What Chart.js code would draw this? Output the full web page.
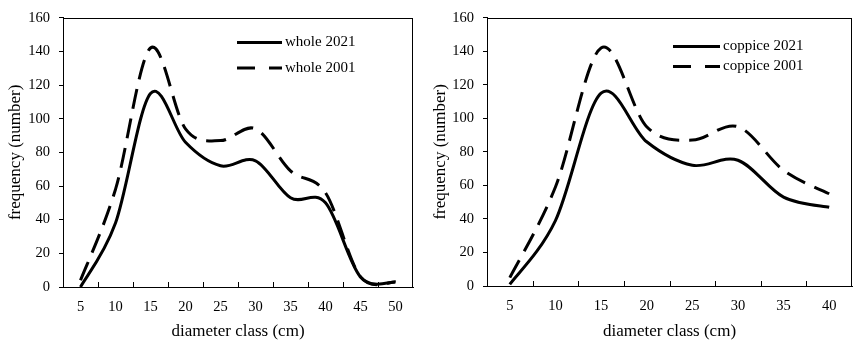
<!DOCTYPE html>
<html>
<head>
<meta charset="utf-8">
<script src="https://cdn.jsdelivr.net/npm/chart.js@4/dist/chart.umd.min.js"></script>
<style>
  html, body { margin: 0; padding: 0; background: #fff; }
  #wrap { position: relative; width: 853px; height: 342px; overflow: hidden; }
  canvas { position: absolute; top: 0; }
  #whole { left: 0; }
  #coppice { left: 425px; }
</style>
</head>
<body>
<div id="wrap">
  <canvas id="whole" width="425" height="342"></canvas>
  <canvas id="coppice" width="428" height="342"></canvas>
</div>
<script>
// diameter classes (cm)
const wholeClasses = ['5', '10', '15', '20', '25', '30', '35', '40', '45', '50'];
const coppiceClasses = ['5', '10', '15', '20', '25', '30', '35', '40'];

// frequencies
const whole2021 = [0, 38, 115, 86, 72, 75, 53, 50, 6, 3];
const whole2001 = [4, 58, 142, 94, 87, 94, 69, 56, 6, 3];
const coppice2021 = [1, 39, 115, 86, 72, 75, 53, 47];
const coppice2001 = [5, 59, 142, 95, 87, 95, 69, 55];

const yMin = 0, yMax = 160, yStep = 20;

const SERIF = "'Liberation Serif', 'Times New Roman', serif";

// Excel-like smoothing: uniform Catmull-Rom control points from the scaled points
const excelSmoothPlugin = {
  id: 'excelSmooth',
  beforeDatasetDraw(chart, args) {
    const meta = args.meta;
    const pts = meta.data;
    const n = pts.length;
    const k = 1 / 6;
    for (let i = 0; i < n; i++) {
      const p = pts[i];
      const prev = pts[Math.max(i - 1, 0)];
      const next = pts[Math.min(i + 1, n - 1)];
      const dx = (next.x - prev.x) * k;
      const dy = (next.y - prev.y) * k;
      p.cp1x = p.x - dx; p.cp1y = p.y - dy;
      p.cp2x = p.x + dx; p.cp2y = p.y + dy;
    }
    meta.dataset._pointsUpdated = true;
  }
};

// box round the plot area
const framePlugin = {
  id: 'frame',
  afterDraw(chart) {
    const { ctx, chartArea: a } = chart;
    ctx.save();
    ctx.strokeStyle = '#000';
    ctx.lineWidth = 1;
    ctx.strokeRect(Math.round(a.left) + 0.5, Math.round(a.top) + 0.5,
      Math.round(a.right - a.left) - 1, Math.round(a.bottom - a.top));
    ctx.restore();
  }
};

// x tick marks point up into the plot, between categories
const innerTicksPlugin = {
  id: 'innerTicks',
  afterDraw(chart) {
    const { ctx, chartArea: a } = chart;
    const x = chart.scales.x;
    const n = chart.data.labels.length;
    ctx.save();
    ctx.strokeStyle = '#000';
    ctx.lineWidth = 1;
    for (let i = 1; i < n; i++) {
      const px = Math.round((x.getPixelForValue(i - 1) + x.getPixelForValue(i)) / 2) + 0.5;
      ctx.beginPath();
      ctx.moveTo(px, a.bottom);
      ctx.lineTo(px, a.bottom - 5);
      ctx.stroke();
    }
    ctx.restore();
  }
};

// legend drawn inside the plot
const boxLegendPlugin = {
  id: 'boxLegend',
  afterDraw(chart, args, opts) {
    const { ctx } = chart;
    ctx.save();
    ctx.font = '15px ' + SERIF;
    ctx.textBaseline = 'middle';
    ctx.fillStyle = '#000';
    chart.data.datasets.forEach((ds, i) => {
      const y = opts.rows[i];
      ctx.strokeStyle = '#000';
      ctx.lineWidth = 3;
      ctx.setLineDash(ds.borderDash ? [18, 14] : []);
      ctx.beginPath();
      ctx.moveTo(opts.x0, y);
      ctx.lineTo(opts.x1, y);
      ctx.stroke();
      ctx.setLineDash([]);
      ctx.fillText(ds.label, opts.x1 + 3, y);
    });
    ctx.restore();
  }
};

function makeChart(id, labels, solid, dashed, names, cfg) {
  return new Chart(document.getElementById(id), {
    type: 'line',
    data: {
      labels: labels,
      datasets: [
        { label: names[0], data: solid, borderColor: '#000', borderWidth: 3,
          pointRadius: 0, tension: 0.4, fill: false },
        { label: names[1], data: dashed, borderColor: '#000', borderWidth: 3,
          borderDash: [20, 10], pointRadius: 0, tension: 0.4, fill: false }
      ]
    },
    options: {
      responsive: false,
      animation: false,
      layout: { padding: { top: 13, right: cfg.padRight, bottom: 0, left: 0 } },
      plugins: {
        legend: { display: false },
        tooltip: { enabled: false },
        boxLegend: cfg.legend
      },
      scales: {
        x: {
          type: 'category',
          offset: true,
          grid: { display: false, drawTicks: false },
          border: { display: true, color: '#000', width: 1 },
          ticks: { color: '#000', padding: 11, font: { family: SERIF, size: 14.5 } },
          title: { display: true, text: 'diameter class (cm)', color: '#000',
                   padding: { top: 0, bottom: 0 }, font: { family: SERIF, size: 17 } },
          afterFit: s => { s.height = cfg.xHeight; }
        },
        y: {
          min: yMin, max: yMax,
          grid: { drawOnChartArea: false, drawTicks: true, tickLength: 4, color: '#000' },
          border: { display: true, color: '#000', width: 1 },
          ticks: { stepSize: yStep, color: '#000', padding: 9, font: { family: SERIF, size: 14.5 } },
          title: { display: true, text: 'frequency (number)', color: '#000',
                   padding: { top: 5, bottom: 0 }, font: { family: SERIF, size: 17 } },
          afterFit: s => { s.width = cfg.yWidth; }
        }
      }
    },
    plugins: [excelSmoothPlugin, framePlugin, innerTicksPlugin, boxLegendPlugin]
  });
}

makeChart('whole', wholeClasses, whole2021, whole2001, ['whole 2021', 'whole 2001'], {
  padRight: 12, xHeight: 55, yWidth: 63,
  legend: { x0: 237, x1: 282, rows: [42.5, 68] }
});

makeChart('coppice', coppiceClasses, coppice2021, coppice2001, ['coppice 2021', 'coppice 2001'], {
  padRight: 1, xHeight: 56, yWidth: 62,
  legend: { x0: 248, x1: 295, rows: [46.5, 66.5] }
});
</script>
</body>
</html>
